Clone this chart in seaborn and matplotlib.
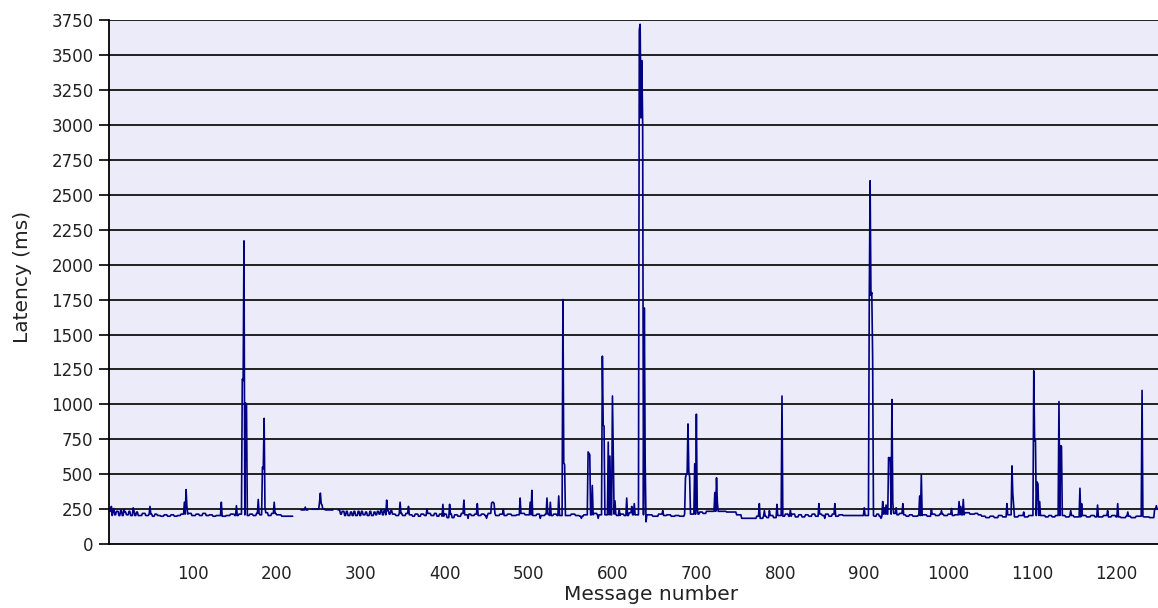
import numpy as np
import pandas as pd
import matplotlib
matplotlib.use("Agg")
import matplotlib.pyplot as plt
import seaborn as sns

N_MESSAGES = 1250

# baseline level: (first message, latency ms) holds until the next step
BASE_STEPS = [
    (1, 235), (3, 205), (5, 240), (7, 210), (9, 235), (12, 205), (14, 240), (16, 205),
    (19, 230), (21, 210), (24, 235), (26, 205), (29, 235), (31, 205), (33, 230), (35, 205),
    (40, 220), (44, 205), (48, 215), (52, 200), (55, 215), (58, 205), (62, 200), (66, 210),
    (70, 200), (74, 210), (78, 200), (82, 205), (86, 215), (95, 220), (99, 205), (104, 215),
    (108, 205), (112, 220), (116, 205), (120, 210), (124, 200), (128, 205), (134, 200),
    (140, 205), (145, 215), (150, 205), (155, 215), (164, 205), (168, 215), (172, 205),
    (176, 220), (180, 210), (186, 225), (190, 205), (194, 220), (200, 210), (206, 200),
    (220, 245), (240, 250), (258, 245), (276, 215), (278, 235), (281, 205), (283, 235),
    (285, 205), (288, 230), (290, 205), (292, 235), (294, 205), (297, 235), (299, 205),
    (301, 235), (303, 210), (306, 230), (308, 205), (311, 235), (313, 205), (316, 230),
    (318, 210), (320, 235), (322, 215), (324, 245), (326, 210), (328, 245), (330, 210),
    (332, 240), (334, 215), (336, 240), (338, 215), (342, 205), (346, 220), (350, 205),
    (354, 220), (358, 210), (362, 200), (365, 215), (369, 200), (372, 215), (376, 205),
    (380, 220), (384, 205), (388, 220), (391, 200), (394, 215), (397, 200), (400, 215),
    (403, 190), (406, 215), (409, 190), (412, 210), (416, 200), (420, 220), (424, 210),
    (428, 215), (432, 205), (436, 215), (440, 205), (444, 215), (448, 205), (452, 220),
    (461, 205), (466, 215), (470, 205), (475, 215), (480, 205), (486, 210), (491, 220),
    (496, 210), (505, 205), (510, 215), (515, 205), (520, 215), (525, 205), (530, 215),
    (534, 205), (546, 205), (551, 215), (556, 205), (561, 200), (566, 210), (578, 220),
    (582, 210), (600, 215), (605, 205), (610, 215), (614, 205), (620, 225), (624, 210),
    (642, 210), (648, 200), (655, 215), (660, 205), (665, 210), (670, 200), (675, 205),
    (680, 200), (686, 215), (704, 230), (708, 220), (712, 235), (736, 230), (748, 210),
    (754, 185), (772, 200), (776, 185), (780, 200), (784, 190), (788, 205), (792, 190),
    (796, 205), (803, 200), (806, 215), (810, 200), (814, 215), (818, 195), (822, 210),
    (826, 195), (830, 210), (834, 200), (838, 215), (842, 200), (846, 215), (850, 205),
    (854, 215), (858, 200), (862, 215), (866, 200), (870, 210), (875, 205), (912, 200),
    (915, 215), (918, 200), (922, 215), (934, 220), (938, 210), (942, 220), (946, 210),
    (950, 200), (954, 210), (958, 200), (964, 205), (970, 210), (975, 200), (980, 215),
    (985, 205), (990, 215), (995, 205), (1000, 215), (1004, 205), (1008, 210),
    (1020, 225), (1026, 215), (1032, 220), (1036, 210), (1040, 200), (1045, 190),
    (1050, 200), (1055, 190), (1060, 205), (1065, 195), (1070, 210), (1078, 195),
    (1084, 205), (1090, 195), (1096, 205), (1112, 205), (1116, 195), (1120, 205),
    (1124, 195), (1128, 205), (1140, 195), (1145, 205), (1150, 195), (1160, 205),
    (1165, 195), (1170, 205), (1175, 195), (1185, 205), (1190, 195), (1195, 205),
    (1200, 195), (1206, 190), (1212, 200), (1218, 190), (1224, 200), (1233, 195),
    (1240, 190), (1246, 250),
]

# individual readings that differ from the baseline (spikes, bumps, dips)
PEAKS = [
    (3, 270), (6, 255), (18, 250), (29, 260), (49, 270), (90, 300), (92, 390), (93, 270),
    (134, 300), (152, 275), (159, 1180), (160, 1170), (161, 2170), (162, 210), (163, 1010),
    (164, 1000), (178, 320), (183, 550), (184, 540), (185, 900), (186, 260), (197, 300),
    (234, 265), (251, 300), (252, 365), (253, 290), (254, 280),
    (331, 315), (347, 300), (357, 270), (379, 250), (398, 285), (406, 285),
    (423, 315), (428, 185), (439, 290), (450, 185), (456, 295), (457, 300), (458, 300),
    (459, 290), (470, 250), (490, 330), (502, 300), (504, 385), (514, 185), (522, 330),
    (526, 300), (536, 345), (541, 1750), (542, 580), (543, 570), (563, 185),
    (571, 660), (572, 650), (573, 640), (576, 420), (583, 185),
    (588, 1345), (589, 850), (590, 845), (595, 730), (597, 630), (600, 1060), (601, 640),
    (603, 310), (608, 250), (617, 330), (623, 270), (626, 290),
    (632, 3680), (633, 3720), (634, 3050), (635, 3460), (636, 3010), (638, 1690),
    (639, 590), (640, 160), (660, 240),
    (687, 475), (688, 500), (689, 510), (690, 860), (691, 520), (692, 480), (698, 575),
    (700, 930), (701, 260), (722, 370), (724, 475), (725, 300),
    (775, 290), (781, 240), (787, 240), (796, 285), (802, 1060), (812, 245), (846, 290),
    (853, 185), (865, 290), (900, 260),
    (906, 1760), (907, 2600), (908, 1780), (909, 1800), (910, 1340),
    (920, 185), (922, 305), (924, 260), (926, 280), (929, 620), (930, 600), (931, 620),
    (933, 1035), (934, 300), (938, 260), (946, 290), (966, 345), (968, 495), (980, 250),
    (992, 240), (1004, 255), (1013, 305), (1015, 270), (1018, 320),
    (1070, 290), (1076, 560), (1077, 360), (1078, 280), (1090, 230),
    (1102, 1240), (1103, 740), (1104, 745), (1106, 445), (1107, 430), (1109, 305),
    (1132, 1020), (1134, 705), (1135, 700), (1146, 240),
    (1157, 400), (1159, 290), (1178, 280), (1190, 240), (1202, 290), (1214, 230),
    (1231, 1100), (1248, 275),
]

# messages with no reading (gaps in the line)
MISSING = [(220, 228), (238, 241), (268, 272)]

Y_TICKS = list(range(0, 3751, 250))
X_TICKS = list(range(100, 1201, 100))

messages = np.arange(1, N_MESSAGES + 1)
latency = np.zeros(N_MESSAGES)
for start, level in BASE_STEPS:
    latency[messages >= start] = level
for msg, value in PEAKS:
    latency[msg - 1] = value
for first, last in MISSING:
    latency[first - 1:last] = np.nan

df = pd.DataFrame({"message": messages, "latency": latency})
# split the series at gaps so each run is drawn as its own line
df["run"] = df["latency"].isna().cumsum()
df = df.dropna()

sns.set_theme(style="white")
plt.rcParams["font.family"] = ["DejaVu Sans"]

fig = plt.figure(figsize=(11.58, 6.08), dpi=100)
ax = fig.add_axes([0.094, 0.105, 0.906, 0.862])
ax.set_facecolor("#ebebfa")

for y in Y_TICKS[1:]:
    ax.axhline(y, color="#111111", linewidth=1.3, zorder=1)

sns.lineplot(data=df, x="message", y="latency", units="run", estimator=None,
             color="#000080", linewidth=1.2, ax=ax, zorder=2)

ax.set_xlim(0, 1250)
ax.set_ylim(0, 3750)
ax.set_yticks(Y_TICKS)
ax.set_xticks(X_TICKS)
ax.tick_params(axis="y", length=7, width=1.2, color="black", direction="out",
               labelsize=12, pad=4, left=True, labelcolor="#222222")
ax.tick_params(axis="x", length=0, labelsize=12, pad=15, labelcolor="#222222")

for side in ["top", "right"]:
    ax.spines[side].set_visible(False)
for side in ["left", "bottom"]:
    ax.spines[side].set_color("black")
    ax.spines[side].set_linewidth(1.3)

ax.set_xlabel("")
ax.set_ylabel("")
fig.text(0.562, 0.022, "Message number", fontsize=14.5, ha="center", va="center",
         color="#222222")
fig.text(0.019, 0.545, "Latency (ms)", fontsize=14.5, ha="center", va="center",
         rotation=90, color="#222222")

fig.savefig("out.png", dpi=100)
